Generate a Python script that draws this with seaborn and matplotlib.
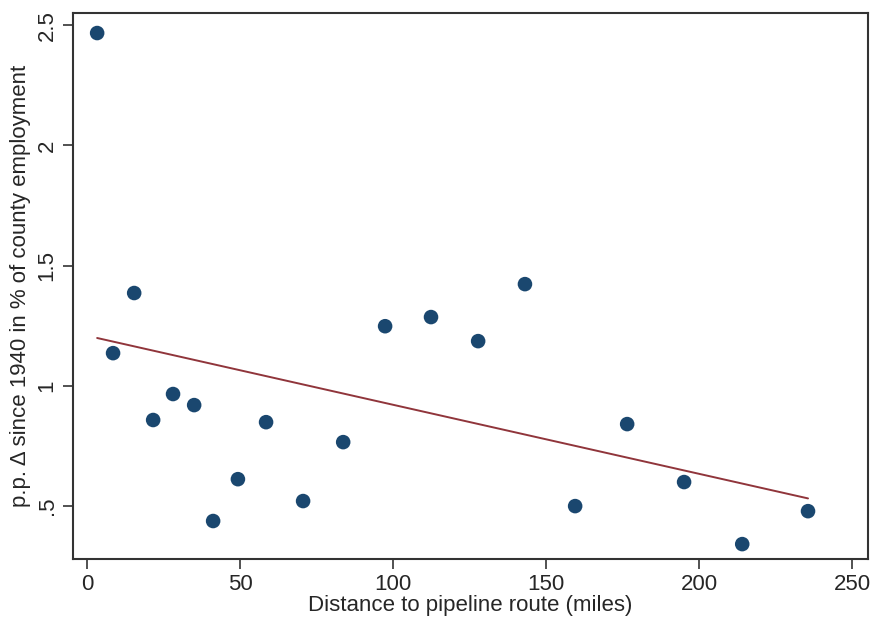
import matplotlib
matplotlib.use("Agg")
import matplotlib.pyplot as plt
import seaborn as sns
import pandas as pd

# binned means
distance = [3.3, 8.5, 15.4, 21.6, 28.1, 35.0, 41.2, 49.3, 58.5, 70.6,
            83.7, 97.4, 112.4, 127.8, 143.1, 159.5, 176.5, 195.1, 214.1, 235.6]
change = [2.467, 1.136, 1.386, 0.858, 0.966, 0.920, 0.438, 0.612, 0.849, 0.521,
          0.766, 1.248, 1.286, 1.186, 1.423, 0.500, 0.841, 0.600, 0.342, 0.479]

# linear fit end points
fit_x = [3.3, 235.6]
fit_y = [1.199, 0.532]

x_ticks = [0, 50, 100, 150, 200, 250]
y_ticks = [0.5, 1, 1.5, 2, 2.5]
y_tick_labels = [".5", "1", "1.5", "2", "2.5"]

sns.set_style("white")
plt.rcParams['font.family'] = ['Liberation Sans', 'DejaVu Sans']

df = pd.DataFrame({'Distance': distance, 'Change': change})
fit = pd.DataFrame({'Distance': fit_x, 'Change': fit_y})

fig, ax = plt.subplots(figsize=(8.75, 6.23), dpi=100)
fig.subplots_adjust(left=0.0834, right=0.992, top=0.979, bottom=0.1027)

sns.lineplot(data=fit, x='Distance', y='Change', color='#90353b', linewidth=1.4, ax=ax)
sns.scatterplot(data=df, x='Distance', y='Change', color='#1a476f', s=110,
                edgecolor='none', ax=ax, zorder=3)

ax.set_xlim(-4.6, 255.2)
ax.set_ylim(0.280, 2.55)
ax.set_xticks(x_ticks)
ax.set_yticks(y_ticks)
ax.set_yticklabels(y_tick_labels, rotation=90, va='center')
ax.tick_params(axis='both', direction='out', length=7, width=1.2, color='#333333',
               labelsize=16, left=True, bottom=True, pad=4)
for spine in ax.spines.values():
    spine.set_visible(True)
    spine.set_color('#333333')
    spine.set_linewidth(1.5)

ax.set_xlabel('Distance to pipeline route (miles)', fontsize=16, labelpad=0)
ax.set_ylabel('p.p. Δ since 1940 in % of county employment', fontsize=16, labelpad=4)

fig.savefig('out.png', dpi=100)
